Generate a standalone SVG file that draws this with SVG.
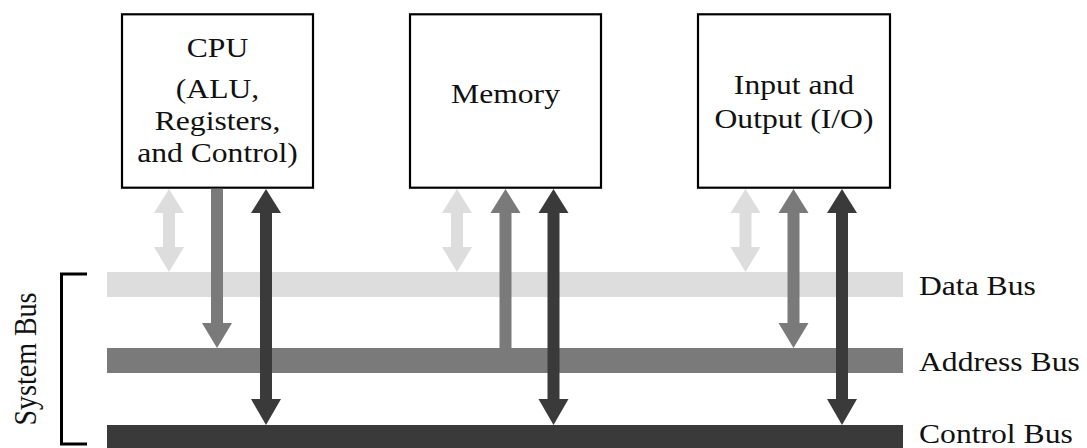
<svg xmlns="http://www.w3.org/2000/svg" width="1087" height="448" viewBox="0 0 1087 448">
<style>
.box{fill:#fff;stroke:#000;stroke-width:2.2}
.t{font-family:"Liberation Serif","Times New Roman",serif;font-size:28px;fill:#111}
.c{text-anchor:middle}
.light{fill:#dddddd}
.mid{fill:#7a7a7a}
.dark{fill:#3a3a3a}
</style>
<rect width="1087" height="448" fill="#fff"/>
<g id="buses">
<rect class="light" x="107" y="272" width="796" height="25"/>
<rect class="mid" x="107" y="348" width="796" height="25"/>
<rect class="dark" x="107" y="425" width="796" height="25"/>
</g>
<g id="cpu">
<rect class="box" x="122" y="14.3" width="191" height="173.4"/>
<text class="t c" transform="translate(217.5,57) scale(1.13,1)">CPU</text>
<text class="t c" transform="translate(217.5,98) scale(1.13,1)">(ALU,</text>
<text class="t c" transform="translate(217.5,130) scale(1.13,1)">Registers,</text>
<text class="t c" transform="translate(217.5,162) scale(1.13,1)">and Control)</text>
</g>
<g id="memory">
<rect class="box" x="410" y="14.3" width="191" height="173.4"/>
<text class="t c" transform="translate(505.5,103) scale(1.13,1)">Memory</text>
</g>
<g id="io">
<rect class="box" x="698" y="14.3" width="192" height="173.4"/>
<text class="t c" transform="translate(794,94) scale(1.13,1)">Input and</text>
<text class="t c" transform="translate(794,128) scale(1.13,1)">Output (I/O)</text>
</g>
<g id="connectors">
<polygon class="light" points="169,189 184,213 175,213 175,247 184,247 169,272 154,247 163,247 163,213 154,213"/>
<polygon class="mid" points="211,188.7 223,188.7 223,323 232,323 217,348 202,323 211,323"/>
<polygon class="dark" points="266,189 281,213 272,213 272,399 281,399 266,425 251,399 260,399 260,213 251,213"/>
<polygon class="light" points="457,189 472,213 463,213 463,247 472,247 457,272 442,247 451,247 451,213 442,213"/>
<polygon class="mid" points="505.5,189 520.5,213 511.5,213 511.5,348 499.5,348 499.5,213 490.5,213"/>
<polygon class="dark" points="553.5,189 568.5,213 559.5,213 559.5,399 568.5,399 553.5,425 538.5,399 547.5,399 547.5,213 538.5,213"/>
<polygon class="light" points="745.5,189 760.5,213 751.5,213 751.5,247 760.5,247 745.5,272 730.5,247 739.5,247 739.5,213 730.5,213"/>
<polygon class="mid" points="793.5,189 808.5,213 799.5,213 799.5,323 808.5,323 793.5,348 778.5,323 787.5,323 787.5,213 778.5,213"/>
<polygon class="dark" points="842,189 857,213 848,213 848,399 857,399 842,425 827,399 836,399 836,213 827,213"/>
</g>
<g id="system-bus">
<path d="M87,274 H61.5 V444 H87" fill="none" stroke="#000" stroke-width="3"/>
<text class="t c" transform="translate(36,359) scale(1.13,1) rotate(-90)">System Bus</text>
</g>
<g id="labels">
<text class="t" transform="translate(919,295) scale(1.13,1)">Data Bus</text>
<text class="t" transform="translate(919,371) scale(1.13,1)">Address Bus</text>
<text class="t" transform="translate(919,443) scale(1.13,1)">Control Bus</text>
</g>
</svg>
